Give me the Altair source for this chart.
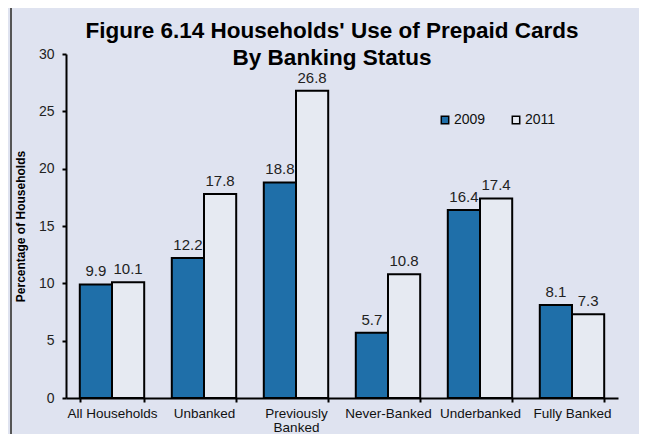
import altair as alt
import pandas as pd

categories = ["All Households", "Unbanked", "Previously Banked", "Never-Banked", "Underbanked", "Fully Banked"]
years = ["2009", "2011"]
values_2009 = [9.9, 12.2, 18.8, 5.7, 16.4, 8.1]
values_2011 = [10.1, 17.8, 26.8, 10.8, 17.4, 7.3]

rows = []
for c, a, b in zip(categories, values_2009, values_2011):
    rows.append({"cat": c, "year": "2009", "value": a})
    rows.append({"cat": c, "year": "2011", "value": b})
df = pd.DataFrame(rows)

BG = "#dfe3f0"
FONT = "Liberation Sans"

x = alt.X("cat:N", sort=categories, title=None,
          scale=alt.Scale(paddingInner=0.3, paddingOuter=0.15),
          axis=alt.Axis(labelAngle=0, labelFontSize=13.5, labelColor="#111", labelFont=FONT,
                        domainColor="black", domainWidth=2, tickColor="black", tickWidth=2,
                        tickSize=4, tickBand="extent", labelPadding=4, labelLineHeight=14,
                        labelExpr="datum.label == 'Previously Banked' ? ['Previously', 'Banked'] : datum.label"))
xo = alt.XOffset("year:N", sort=years)

bars = alt.Chart(df).mark_bar(stroke="black", strokeWidth=2).encode(
    x=x, xOffset=xo,
    y=alt.Y("value:Q", scale=alt.Scale(domain=[0, 30]), title="Percentage of Households",
            axis=alt.Axis(values=[0, 5, 10, 15, 20, 25, 30], grid=False, labelFontSize=14,
                          labelColor="#222", labelFont=FONT, domainColor="black", domainWidth=2,
                          tickColor="black", tickWidth=2, tickSize=4, labelPadding=8,
                          titleFontSize=12, titleFont=FONT, titleFontWeight="bold",
                          titleColor="black", titlePadding=11)),
    color=alt.Color("year:N", sort=years,
                    scale=alt.Scale(domain=years, range=["#1f6fa9", "#e6eaf2"]),
                    legend=alt.Legend(title=None, orient="none", legendX=372, legendY=59,
                                      direction="horizontal", symbolType="square",
                                      symbolSize=55, symbolStrokeColor="black",
                                      symbolStrokeWidth=1.5, labelFontSize=14, labelFont=FONT,
                                      labelColor="#111", columnPadding=23, labelOffset=2)),
)

labels = alt.Chart(df).mark_text(baseline="bottom", dy=-5, fontSize=15, font=FONT, color="#222").encode(
    x=alt.X("cat:N", sort=categories), xOffset=xo,
    y="value:Q", text=alt.Text("value:Q", format=".1f"),
)

frame_top = alt.Chart(df).mark_rule(color="#555", strokeWidth=2, clip=False).encode(
    x=alt.value(-55), x2=alt.value(700), y=alt.value(-48))
frame_left = alt.Chart(df).mark_rule(color="#555", strokeWidth=2, clip=False).encode(
    x=alt.value(-55), y=alt.value(-48), y2=alt.value(450))

chart = alt.layer(frame_top, frame_left, bars, labels).properties(
    width=552, height=344,
    title=alt.TitleParams(["Figure 6.14  Households' Use of Prepaid Cards", "By Banking Status"],
                          fontSize=22.5, font=FONT, fontWeight="bold", color="black",
                          anchor="middle", offset=-64, lineHeight=27, dx=-10),
    autosize=alt.AutoSizeParams(type="none"),
    padding={"left": 58, "top": 46, "right": 21, "bottom": 36},
    background=BG,
).configure_view(stroke=None)

chart.save("out.html", embed_options={"renderer": "svg", "actions": False})
